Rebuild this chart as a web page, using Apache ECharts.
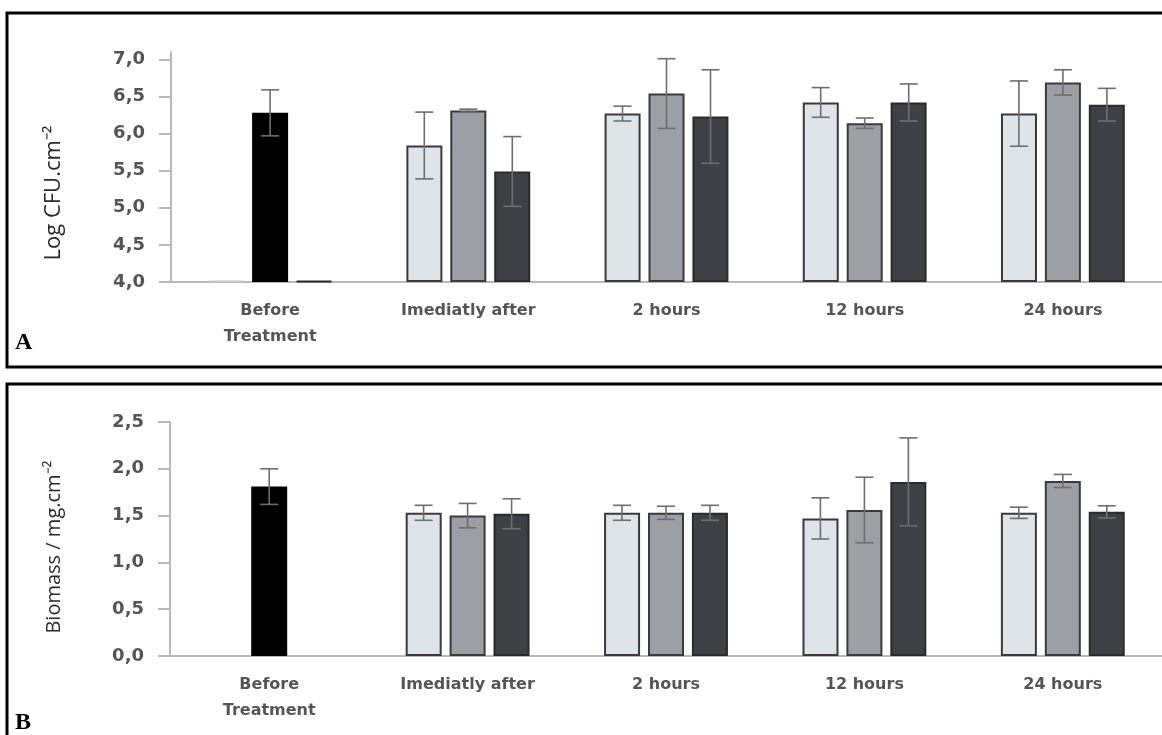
<!DOCTYPE html>
<html>
<head>
<meta charset="utf-8">
<script src="https://cdn.jsdelivr.net/npm/echarts@6/dist/echarts.min.js"></script>
<style>
  html, body { margin: 0; padding: 0; background: #fff; }
  #chart { width: 1162px; height: 735px; }
</style>
</head>
<body>
<div id="chart"></div>
<script>
// categories
var categories = ['Before\nTreatment', 'Imediatly after', '2 hours', '12 hours', '24 hours'];

// A - Log CFU.cm-2 (mean / error)
var cfuLight = [4.0, 5.84, 6.27, 6.42, 6.27];
var cfuLightErr = [0, 0.45, 0.10, 0.20, 0.44];
var cfuMid = [6.28, 6.31, 6.54, 6.14, 6.69];
var cfuMidErr = [0.31, 0.02, 0.47, 0.07, 0.17];
var cfuDark = [4.0, 5.49, 6.23, 6.42, 6.39];
var cfuDarkErr = [0, 0.47, 0.63, 0.25, 0.22];
var cfuTicks = [4.0, 4.5, 5.0, 5.5, 6.0, 6.5, 7.0];

// B - Biomass / mg.cm-2
var bioLight = ['-', 1.53, 1.53, 1.47, 1.53];
var bioLightErr = [0, 0.08, 0.08, 0.22, 0.06];
var bioMid = [1.81, 1.50, 1.53, 1.56, 1.87];
var bioMidErr = [0.19, 0.13, 0.07, 0.35, 0.07];
var bioDark = ['-', 1.52, 1.53, 1.86, 1.54];
var bioDarkErr = [0, 0.16, 0.08, 0.47, 0.065];
var bioTicks = [0.0, 0.5, 1.0, 1.5, 2.0, 2.5];

var colLight = '#dfe4eb', colMid = '#9ca0a6', colDark = '#3f4045';
var BAR_W = 36, BAR_STEP = 44;

// first category uses a black bar in the middle slot
function midData(vals) {
  return vals.map(function (v, i) {
    return i === 0 ? { value: v, itemStyle: { color: '#000', borderColor: '#000' } } : v;
  });
}
function lightData(vals) {
  return vals.map(function (v, i) {
    return i === 0 ? { value: v, itemStyle: { borderColor: '#c8c8c8' } } : v;
  });
}

function barSeries(data, color, border, idx) {
  return {
    type: 'bar', xAxisIndex: idx, yAxisIndex: idx,
    data: data, barWidth: BAR_W, barGap: '22%', barMinHeight: 1,
    itemStyle: { color: color, borderColor: border, borderWidth: 2 },
    silent: true
  };
}

function errSeries(mean, err, slot, idx) {
  var d = [];
  for (var i = 0; i < mean.length; i++) {
    if (mean[i] !== '-' && err[i] > 0) d.push([i, mean[i] - err[i], mean[i] + err[i]]);
  }
  return {
    type: 'custom', xAxisIndex: idx, yAxisIndex: idx, z: 10, silent: true,
    renderItem: function (params, api) {
      var lo = api.coord([api.value(0), api.value(1)]);
      var hi = api.coord([api.value(0), api.value(2)]);
      var x = lo[0] + slot * BAR_STEP;
      var st = { stroke: '#6e6e6e', lineWidth: 1.6 };
      return {
        type: 'group',
        children: [
          { type: 'line', shape: { x1: x, y1: lo[1], x2: x, y2: hi[1] }, style: st },
          { type: 'line', shape: { x1: x - 9, y1: hi[1], x2: x + 9, y2: hi[1] }, style: st },
          { type: 'line', shape: { x1: x - 9, y1: lo[1], x2: x + 9, y2: lo[1] }, style: st }
        ]
      };
    },
    data: d
  };
}

var axisGray = '#b8b8b8';
function xAxisCfg(idx) {
  return {
    type: 'category', gridIndex: idx, data: categories,
    axisLine: { lineStyle: { color: axisGray, width: 2 } },
    axisTick: { show: false },
    axisLabel: {
      margin: 16, color: '#555', fontFamily: 'DejaVu Sans', fontWeight: 'bold',
      fontSize: 16, lineHeight: 26, interval: 0
    }
  };
}
function yAxisCfg(idx, min, max, ticks, name, size, pad) {
  return {
    type: 'value', gridIndex: idx, min: min, max: max, interval: 0.5, startValue: min,
    name: name, nameLocation: 'middle', nameGap: 106,
    nameTextStyle: { fontFamily: 'Open Sans', fontSize: size, color: '#2a2a2a', padding: [0, pad, 0, 0] },
    splitLine: { show: false },
    axisLine: { show: true, lineStyle: { color: axisGray, width: 2 } },
    axisTick: { show: true, length: 12, customValues: ticks, lineStyle: { color: axisGray, width: 2 } },
    axisLabel: {
      margin: 26, color: '#555', fontFamily: 'DejaVu Sans', fontWeight: 'bold', fontSize: 18,
      customValues: ticks,
      formatter: function (v) { return v.toFixed(1).replace('.', ','); }
    }
  };
}

var chart = echarts.init(document.getElementById('chart'));
chart.setOption({
  backgroundColor: '#fff',
  animation: false,
  grid: [
    { left: 171, right: -5, top: 52, bottom: 453 },
    { left: 170, right: -5, top: 422, bottom: 79 }
  ],
  xAxis: [xAxisCfg(0), xAxisCfg(1)],
  yAxis: [
    yAxisCfg(0, 4, 7.1, cfuTicks, 'Log CFU.cm\u207B\u00B2', 22, 52),
    yAxisCfg(1, 0, 2.5, bioTicks, 'Biomass / mg.cm\u207B\u00B2', 20, 16)
  ],
  series: [
    barSeries(lightData(cfuLight), colLight, '#3a3a3a', 0),
    barSeries(midData(cfuMid), colMid, '#3a3a3a', 0),
    barSeries(cfuDark, colDark, '#2a2a2a', 0),
    errSeries(cfuLight, cfuLightErr, -1, 0),
    errSeries(cfuMid, cfuMidErr, 0, 0),
    errSeries(cfuDark, cfuDarkErr, 1, 0),
    barSeries(bioLight, colLight, '#3a3a3a', 1),
    barSeries(midData(bioMid), colMid, '#3a3a3a', 1),
    barSeries(bioDark, colDark, '#2a2a2a', 1),
    errSeries(bioLight, bioLightErr, -1, 1),
    errSeries(bioMid, bioMidErr, 0, 1),
    errSeries(bioDark, bioDarkErr, 1, 1)
  ],
  graphic: [
    { type: 'rect', shape: { x: 7, y: 13, width: 1170, height: 354 }, style: { fill: null, stroke: '#000', lineWidth: 3 }, silent: true },
    { type: 'rect', shape: { x: 7, y: 384, width: 1170, height: 400 }, style: { fill: null, stroke: '#000', lineWidth: 3 }, silent: true },
    { type: 'text', left: 15, top: 331, style: { text: 'A', font: 'bold 24px "Liberation Serif"', fill: '#000' } },
    { type: 'text', left: 15, top: 711, style: { text: 'B', font: 'bold 24px "Liberation Serif"', fill: '#000' } }
  ]
});
</script>
</body>
</html>
